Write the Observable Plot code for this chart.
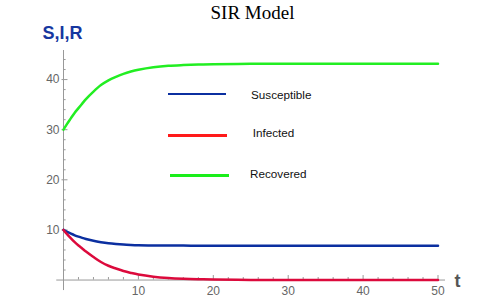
<!DOCTYPE html>
<html>
<head>
<meta charset="utf-8">
<script src="https://cdn.jsdelivr.net/npm/d3@7"></script>
<script src="https://cdn.jsdelivr.net/npm/@observablehq/plot@0.6"></script>
<style>
  body { margin: 0; background: #fff; }
  #wrap { position: relative; width: 483px; height: 303px; background: #fff; overflow: hidden; }
  #title { position: absolute; left: 0; top: 3px; width: 505px; text-align: center;
           font-family: "Liberation Serif", "DejaVu Serif", serif; font-size: 19px; line-height: 19px; color: #000; }
  #chart { position: absolute; left: 0; top: 28px; }
  .leg-line { position: absolute; height: 2.5px; }
  .leg-text { position: absolute; font-family: "Liberation Sans", Arial, sans-serif; font-size: 11.7px;
              line-height: 14px; height: 14px; color: #111; white-space: nowrap; }
</style>
</head>
<body>
<div id="wrap">
  <div id="title">SIR Model</div>
  <div id="chart"></div>
</div>
<script>
// ---- data ----
const tValues = [0,0.5,1,1.5,2,2.5,3,4,5,6,7,8,9,10,12,14,16,18,20,25,30,35,40,45,50];
const susceptible = [10,9.6,9.25,8.93,8.65,8.41,8.2,7.83,7.55,7.33,7.18,7.07,7.0,6.95,6.9,6.88,6.87,6.86,6.86,6.85,6.85,6.85,6.85,6.85,6.85];
const infected = [10,9.1,8.3,7.55,6.9,6.3,5.7,4.6,3.6,2.85,2.3,1.8,1.42,1.1,0.68,0.42,0.26,0.16,0.1,0.03,0.01,0,0,0,0];
const recovered = [30,31.2,32.3,33.4,34.3,35.2,36.1,37.6,38.9,39.85,40.55,41.15,41.6,41.95,42.45,42.75,42.9,43.0,43.06,43.14,43.16,43.17,43.17,43.17,43.17];
const seriesNames = ["Susceptible", "Infected", "Recovered"];
const xMajorTicks = [10, 20, 30, 40, 50];
const yMajorTicks = [10, 20, 30, 40];
const xMinorTicks = d3.range(2, 51, 2).filter(v => v % 10 !== 0);
const yMinorTicks = d3.range(2, 46, 2).filter(v => v % 10 !== 0);

const lineColors = ["#0b2fa0", "#dc0a3c", "#22ee22"];
const legendColors = ["#0b2fa0", "#ff1a1a", "#1aee1a"];

const seriesValues = [susceptible, infected, recovered];
const rows = [];
seriesNames.forEach((name, i) => {
  tValues.forEach((t, j) => rows.push({series: name, t, v: seriesValues[i][j]}));
});

const axisColor = "#999";
const labelColor = "#666";

const chart = Plot.plot({
  width: 483,
  height: 275,
  marginLeft: 63,
  marginRight: 38,
  marginTop: 22,
  marginBottom: 0,
  style: {background: "transparent", overflow: "visible"},
  x: {domain: [0, 51], axis: null},
  y: {domain: [-4.68, 45.8], axis: null},
  marks: [
    // axes lines
    Plot.ruleY([0], {x1: -0.9, x2: 51, stroke: axisColor, strokeWidth: 1}),
    Plot.ruleX([0], {y1: -2.1, y2: 45.8, stroke: axisColor, strokeWidth: 1}),
    // x ticks
    Plot.ruleX(xMajorTicks, {y1: 0, y2: 0.9, stroke: axisColor}),
    Plot.ruleX(xMinorTicks, {y1: 0, y2: 0.5, stroke: axisColor}),
    // y ticks
    Plot.ruleY(yMajorTicks, {x1: -0.2, x2: 0.6, stroke: axisColor}),
    Plot.ruleY(yMinorTicks, {x1: 0, x2: 0.35, stroke: axisColor}),
    // tick labels
    Plot.text(xMajorTicks, {x: d => d, y: 0, dy: 11, text: d => String(d), fill: labelColor,
      fontSize: 12, fontFamily: "Liberation Sans, Arial, sans-serif"}),
    Plot.text(yMajorTicks, {x: 0, y: d => d, dx: -4, textAnchor: "end", text: d => String(d), fill: labelColor,
      fontSize: 12, fontFamily: "Liberation Sans, Arial, sans-serif"}),
    // curves
    Plot.line(rows, {x: "t", y: "v", z: "series", stroke: d => lineColors[seriesNames.indexOf(d.series)],
      strokeWidth: 2.5, curve: "catmull-rom"}),
    // axis labels
    Plot.text(["S,I,R"], {x: 0, y: 45.8, dx: -1, dy: -17, text: d => d, fill: "#1637a0",
      fontSize: 18, fontWeight: "bold", fontFamily: "Liberation Sans, Arial, sans-serif"}),
    Plot.text(["t"], {x: 51, y: 0, dx: 12, dy: 1, text: d => d, fill: "#555",
      fontSize: 18, fontWeight: "bold", fontFamily: "Liberation Sans, Arial, sans-serif"})
  ]
});
document.getElementById("chart").appendChild(chart);

// legend (HTML overlay)
const wrap = document.getElementById("wrap");
const legLines = [{x1: 168, x2: 226, y: 94}, {x1: 168, x2: 227, y: 135.7}, {x1: 170, x2: 229, y: 175.3}];
const legTexts = [{x: 251, y: 95}, {x: 252.7, y: 133}, {x: 250, y: 174}];
seriesNames.forEach((name, i) => {
  const l = document.createElement("div");
  l.className = "leg-line";
  l.style.left = legLines[i].x1 + "px";
  l.style.width = (legLines[i].x2 - legLines[i].x1) + "px";
  l.style.top = (legLines[i].y - 1.25) + "px";
  l.style.background = legendColors[i];
  wrap.appendChild(l);
  const t = document.createElement("div");
  t.className = "leg-text";
  t.textContent = name;
  t.style.left = legTexts[i].x + "px";
  t.style.top = (legTexts[i].y - 7) + "px";
  wrap.appendChild(t);
});
</script>
</body>
</html>
